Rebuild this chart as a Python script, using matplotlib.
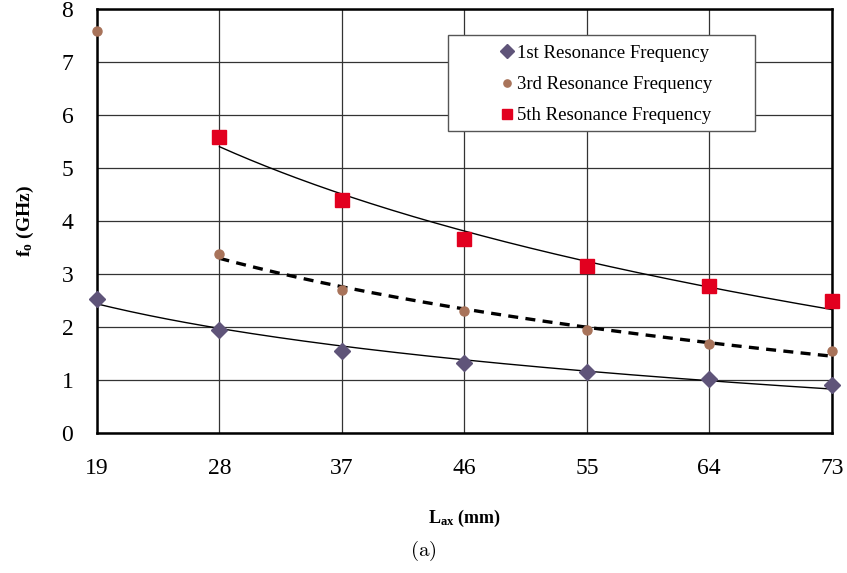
import matplotlib.pyplot as plt
import matplotlib.patches as mpatches
import numpy as np

plt.rcParams['font.family'] = ['Liberation Serif', 'DejaVu Serif']
plt.rcParams['mathtext.fontset'] = 'custom'
plt.rcParams['mathtext.rm'] = 'Liberation Serif'
plt.rcParams['mathtext.bf'] = 'Liberation Serif:bold'

# antenna length (mm) and measured resonance frequencies (GHz)
length_mm = [19, 28, 37, 46, 55, 64, 73]
f1 = [2.53, 1.94, 1.55, 1.32, 1.15, 1.02, 0.91]
f3 = [7.58, 3.38, 2.70, 2.30, 1.94, 1.68, 1.55]
f5_len = [28, 37, 46, 55, 64, 73]
f5 = [5.58, 4.40, 3.66, 3.15, 2.77, 2.49]


def log_trend(x, y, x0, x1):
    # least-squares logarithmic trend y = a * ln(x) + b
    a, b = np.polyfit(np.log(x), y, 1)
    xs = np.linspace(x0, x1, 200)
    return xs, a * np.log(xs) + b


fig = plt.figure(figsize=(8.47, 5.73), dpi=100)
ax = fig.add_axes([0.1145, 0.2443, 0.8675, 0.7397])

# trend lines
x, y = log_trend(length_mm, f1, 19, 73)
ax.plot(x, y, color='black', lw=1.0, zorder=2)
x, y = log_trend(length_mm[1:], f3[1:], 28, 73)
ax.plot(x, y, color='black', lw=2.4, ls=(0, (3, 2.2)), zorder=2)
x, y = log_trend(f5_len, f5, 28, 73)
ax.plot(x, y, color='black', lw=1.0, zorder=2)

# measured points
ax.plot(length_mm, f1, ls='none', marker='D', ms=8.5, color='#5f5479',
        label='1st Resonance Frequency', zorder=3, clip_on=False)
ax.plot(length_mm, f3, ls='none', marker='o', ms=6.5, color='#a8735a',
        label='3rd Resonance Frequency', zorder=3, clip_on=False)
ax.plot(f5_len, f5, ls='none', marker='s', ms=9.5, color='#e2001f',
        label='5th Resonance Frequency', zorder=3, clip_on=False)

ax.set_xlim(19, 73)
ax.set_ylim(0, 8)
ax.set_xticks(length_mm)
ax.set_yticks(range(0, 9))
ax.tick_params(length=0, labelsize=17)
ax.tick_params(axis='x', pad=18)
ax.tick_params(axis='y', pad=17)
ax.grid(True, color='#333333', lw=0.9)
ax.set_axisbelow(True)
for s in ax.spines.values():
    s.set_linewidth(1.8)

ax.set_ylabel(r'$\mathbf{f_o}$ (GHz)', fontsize=14, fontweight='bold', labelpad=18)
ax.set_xlabel(r'$\mathbf{L_{ax}}$ (mm)', fontsize=13, fontweight='bold', labelpad=21)

# legend box is wider than its entries, so draw the frame separately
frame = mpatches.Rectangle((0.4776, 0.712), 0.4176, 0.2267, transform=ax.transAxes,
                           facecolor='white', edgecolor='#555555', lw=1.0, zorder=4)
ax.add_patch(frame)
leg = ax.legend(loc='center left', bbox_to_anchor=(0.545, 0.822), fontsize=13.5,
                frameon=False, borderpad=0, labelspacing=0.75, handletextpad=0.05,
                handlelength=1.0, borderaxespad=0, markerscale=0.8)
leg.set_zorder(5)

fig.text(0.5, 0.017, r'$\mathrm{(a)}$', ha='center', va='bottom', fontsize=15,
         math_fontfamily='cm')

fig.savefig('out.png', dpi=100)
